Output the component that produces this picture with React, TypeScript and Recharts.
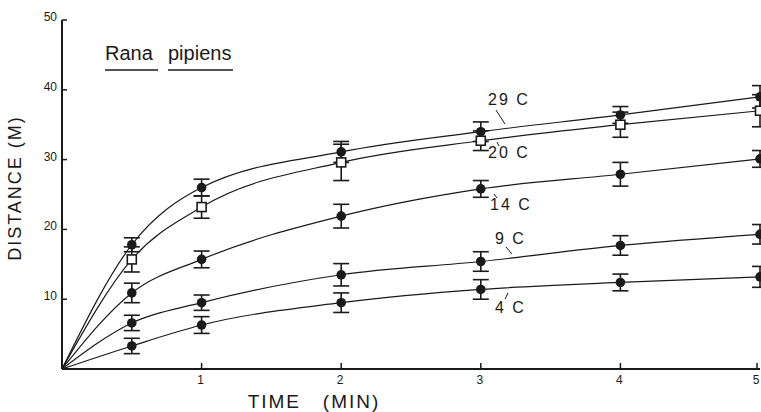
import React from 'react';
import { LineChart, Line, XAxis, YAxis, ErrorBar } from 'recharts';

// time points (min); 0 is the common origin of the fitted curves
const times = [0, 0.5, 1, 2, 3, 4, 5];

// distance (m), per temperature
const dist29 = [0, 17.8, 26.0, 31.1, 34.0, 36.4, 39.0];
const dist20 = [0, 15.7, 23.2, 29.6, 32.7, 35.0, 37.0];
const dist14 = [0, 10.9, 15.7, 21.9, 25.8, 27.9, 30.1];
const dist9 = [0, 6.6, 9.5, 13.5, 15.4, 17.7, 19.3];
const dist4 = [0, 3.3, 6.3, 9.5, 11.4, 12.4, 13.2];

// half-length of the error bars
const err29 = [0, 1.0, 1.2, 1.5, 1.4, 1.2, 1.6];
const err20 = [0, 1.8, 1.6, 2.6, 1.4, 1.8, 2.3];
const err14 = [0, 1.4, 1.2, 1.7, 1.2, 1.7, 1.2];
const err9 = [0, 1.1, 1.1, 1.6, 1.4, 1.4, 1.4];
const err4 = [0, 1.1, 1.2, 1.4, 1.4, 1.2, 1.5];

const xTicks = [0, 1, 2, 3, 4, 5];
const yTicks = [0, 10, 20, 30, 40, 50];

const data = times.map((t, i) => ({
  t,
  d29: dist29[i], e29: err29[i],
  d20: dist20[i], e20: err20[i],
  d14: dist14[i], e14: err14[i],
  d9: dist9[i], e9: err9[i],
  d4: dist4[i], e4: err4[i],
}));

const INK = '#1a1a1a';
const FONT = '"Liberation Sans", Arial, sans-serif';

function FilledDot(props: any) {
  const { cx, cy, payload, index } = props;
  if (!payload || payload.t === 0) return <g key={`f-${index}`} />;
  return <circle key={`f-${index}`} cx={cx} cy={cy} r={4.8} fill={INK} stroke="none" />;
}

function OpenSquare(props: any) {
  const { cx, cy, payload, index } = props;
  if (!payload || payload.t === 0) return <g key={`s-${index}`} />;
  return (
    <rect key={`s-${index}`} x={cx - 4.5} y={cy - 4.5} width={9} height={9}
      fill="#fff" stroke={INK} strokeWidth={1.6} />
  );
}

function YTick(props: any) {
  const { x, y, payload } = props;
  if (payload.value === 0) return <g />;
  return (
    <g>
      <line x1={x} y1={y} x2={x + 5} y2={y} stroke={INK} strokeWidth={1.5} />
      <text x={x - 5} y={y + 1} textAnchor="end" fontSize={12} fontFamily={FONT} fill={INK}>
        {payload.value}
      </text>
    </g>
  );
}

function XTick(props: any) {
  const { x, y, payload } = props;
  if (payload.value === 0) return <g />;
  return (
    <g>
      <line x1={x} y1={y} x2={x} y2={y - 6} stroke={INK} strokeWidth={1.5} />
      <text x={x - 1} y={y + 15} textAnchor="middle" fontSize={12} fontFamily={FONT} fill={INK}>
        {payload.value}
      </text>
    </g>
  );
}

const series = [
  { key: 'd29', err: 'e29', dot: FilledDot },
  { key: 'd20', err: 'e20', dot: OpenSquare },
  { key: 'd14', err: 'e14', dot: FilledDot },
  { key: 'd9', err: 'e9', dot: FilledDot },
  { key: 'd4', err: 'e4', dot: FilledDot },
];

const labelStyle: React.CSSProperties = { fontFamily: FONT, fontSize: 16, fill: INK } as any;

export default function App() {
  return (
    <div style={{ position: 'absolute', left: 0, top: 0, width: 761, height: 412, background: '#fff' }}>
      <LineChart width={761} height={412} data={data} margin={{ top: 20, right: 1, bottom: 0, left: 0 }}>
        <XAxis
          dataKey="t"
          type="number"
          domain={[0, 5]}
          ticks={xTicks}
          height={43}
          tickSize={0}
          tickMargin={0}
          tickLine={false}
          axisLine={{ stroke: INK, strokeWidth: 2 }}
          tick={<XTick />}
        />
        <YAxis
          type="number"
          domain={[0, 50]}
          ticks={yTicks}
          width={62}
          tickSize={0}
          tickMargin={0}
          tickLine={false}
          axisLine={{ stroke: INK, strokeWidth: 2 }}
          tick={<YTick />}
        />
        {series.map((s) => (
          <Line
            key={s.key}
            dataKey={s.key}
            type="monotone"
            stroke={INK}
            strokeWidth={1.2}
            dot={s.dot}
            activeDot={false}
            isAnimationActive={false}
          >
            <ErrorBar dataKey={s.err} width={8} stroke={INK} strokeWidth={1.6} direction="y" />
          </Line>
        ))}
      </LineChart>
      <svg width={761} height={412} style={{ position: 'absolute', left: 0, top: 0, pointerEvents: 'none' }}>
        <text x={15} y={188} transform="rotate(-90 15 188)" dy={6} textAnchor="middle"
          fontFamily={FONT} fontSize={18} letterSpacing={2} fill={INK}>
          DISTANCE (M)
        </text>
        <text x={314} y={408} textAnchor="middle" fontFamily={FONT} fontSize={19} letterSpacing={2} fill={INK}
          style={{ whiteSpace: 'pre' }}>
          {'TIME   (MIN)'}
        </text>
        <text x={105} y={60} fontFamily={FONT} fontSize={20} fill={INK}>Rana</text>
        <text x={168} y={60} fontFamily={FONT} fontSize={20} fill={INK}>pipiens</text>
        <line x1={105} y1={70} x2={158} y2={70} stroke={INK} strokeWidth={1.5} />
        <line x1={168} y1={70} x2={233} y2={70} stroke={INK} strokeWidth={1.5} />

        <text x={488} y={105} style={labelStyle} letterSpacing={2}>{'29  C'}</text>
        <line x1={496} y1={110} x2={505} y2={124} stroke={INK} strokeWidth={1} />
        <text x={488} y={158} style={labelStyle} letterSpacing={2}>{'20  C'}</text>
        <line x1={497} y1={142} x2={499} y2={146} stroke={INK} strokeWidth={1} />
        <text x={490} y={210} style={labelStyle} letterSpacing={2}>{'14  C'}</text>
        <line x1={494} y1={194} x2={497} y2={198} stroke={INK} strokeWidth={1} />
        <text x={495} y={244} style={labelStyle} letterSpacing={2}>{'9  C'}</text>
        <line x1={506} y1={247} x2={512} y2={254} stroke={INK} strokeWidth={1} />
        <text x={495} y={313} style={labelStyle} letterSpacing={2}>{'4  C'}</text>
        <line x1={508} y1={293} x2={505} y2={299} stroke={INK} strokeWidth={1} />
      </svg>
    </div>
  );
}
